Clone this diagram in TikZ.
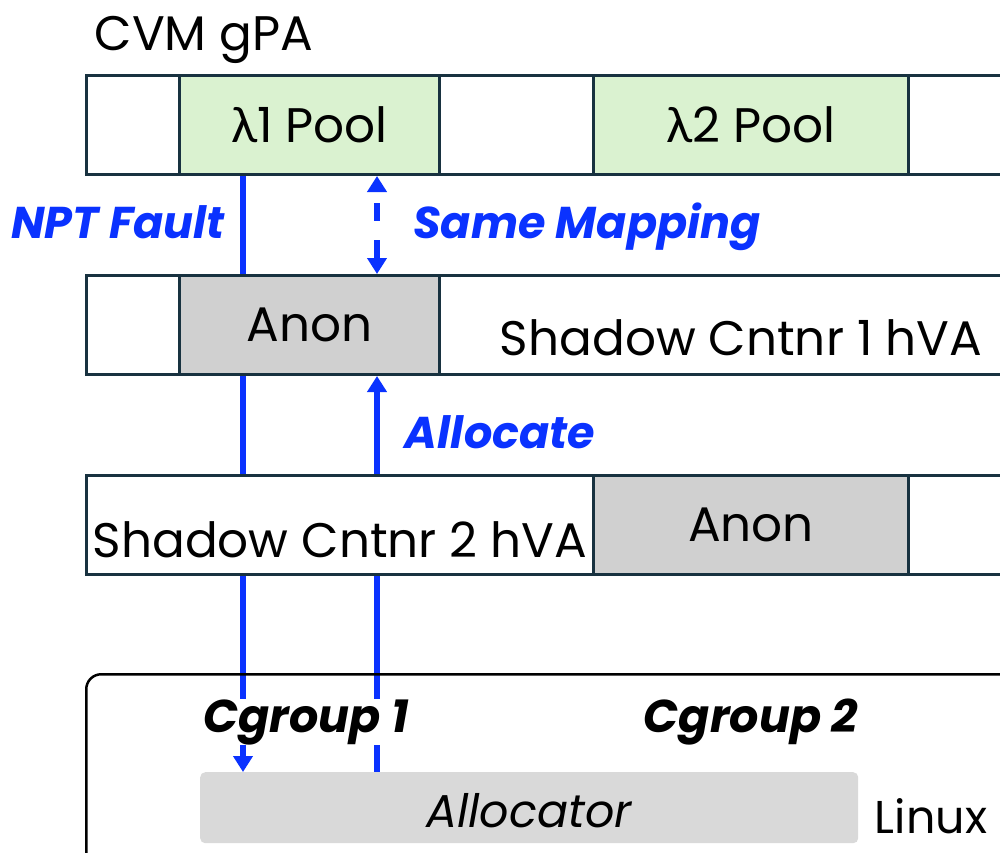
\documentclass[tikz,border=0pt]{standalone}
\usepackage{fontspec}
\setmainfont{Poppins}
\newfontfamily\lamfont{Lato}
\usetikzlibrary{positioning,arrows.meta}
\definecolor{cellline}{RGB}{24,50,64}
\definecolor{poolgreen}{RGB}{218,242,208}
\definecolor{anongray}{RGB}{208,208,208}
\definecolor{allocgray}{RGB}{217,217,217}
\definecolor{flowblue}{RGB}{10,50,255}
\pgfdeclarelayer{bg}
\pgfsetlayers{bg,main}
\newcommand{\bigtext}{\fontsize{48.5}{52}\selectfont}
\newcommand{\midtext}{\fontsize{46}{50}\selectfont}
\newcommand{\lbltext}{\fontsize{44.5}{50}\selectfont}
\tikzset{
    cell/.style={draw=cellline, line width=3pt, fill=white, minimum height=99pt,
                 inner sep=0pt, anchor=north west, font=\bigtext},
    pool/.style={cell, fill=poolgreen},
    anon/.style={cell, fill=anongray},
    txt/.style={inner sep=0pt, anchor=base, font=\bigtext},
    flowlbl/.style={txt, text=flowblue, font=\lbltext\bfseries\itshape},
    flow/.style={draw=flowblue, line width=6pt},
    tip/.style={-{Triangle[width=19pt,length=16pt]}},
}

\begin{document}
\begin{tikzpicture}[x=1pt,y=-1pt]
\useasboundingbox (0,0) rectangle (1000,852);
\clip (0,0) rectangle (1000,852);
%guest physical row
\node[txt] (cvm) at (204,50) {CVM gPA};
\node[cell, minimum width=93pt] (gpa0) at (85,74) {};
\node[pool, minimum width=260pt] (pool1) at (178,74) {{\lamfont λ}1 Pool};
\node[cell, minimum width=154pt] (gpa2) at (438,74) {};
\node[pool, minimum width=315pt] (pool2) at (592,74) {{\lamfont λ}2 Pool};
\node[cell, minimum width=140pt] (gpa4) at (907,74) {};
%shadow container 1
\node[cell, minimum width=93pt] (hva10) at (85,274) {};
\node[anon, minimum width=260pt] (anon1) at (178,274) {Anon};
\node[cell, minimum width=600pt] (shadow1) at (438,274) {};
\node[txt] (shadow1txt) at (741,355) {Shadow Cntnr 1 hVA};
%shadow container 2
\node[cell, minimum width=507pt] (shadow2) at (85,474) {};
\node[txt] (shadow2txt) at (340,557) {Shadow Cntnr 2 hVA};
\node[anon, minimum width=315pt] (anon2) at (592,474) {Anon};
\node[cell, minimum width=140pt] (hva22) at (907,474) {};
%host
\node[draw=black, line width=2.5pt, rounded corners=15pt, minimum width=960pt,
      minimum height=230pt, anchor=north west, inner sep=0pt] (linux) at (85,673) {};
\node[fill=allocgray, rounded corners=5pt, minimum width=658pt, minimum height=71pt,
      anchor=north west, inner sep=0pt] (alloc) at (200,772) {};
\node[txt, font=\midtext\itshape] (alloctxt) at (529,827) {Allocator};
\node[txt, font=\midtext] (linuxtxt) at (931,833) {Linux};
\node[txt, fill=white, font=\midtext\bfseries\itshape] (cgroup1) at (306,732) {Cgroup 1};
\node[txt, font=\midtext\bfseries\itshape] (cgroup2) at (751,732) {Cgroup 2};
%labels
\node[flowlbl] (nptlbl) at (118,238) {NPT Fault};
\node[flowlbl] (maplbl) at (587,238) {Same Mapping};
\node[flowlbl] (alloclbl) at (500,448) {Allocate};
%flows
\coordinate (nptx) at (243,0);
\coordinate (mapx) at (377,0);
\begin{pgfonlayer}{bg}
\draw[flow, tip] (pool1.south -| nptx) -- (alloc.north -| nptx);
\draw[flow, tip] (alloc.north -| mapx) -- (anon1.south -| mapx);
\draw[flow, dash pattern=on 18pt off 19pt, dash phase=25pt,
      {Triangle[width=19pt,length=16pt]}-{Triangle[width=19pt,length=16pt]}]
      (pool1.south -| mapx) -- (anon1.north -| mapx);
\end{pgfonlayer}
\end{tikzpicture}
\end{document}
